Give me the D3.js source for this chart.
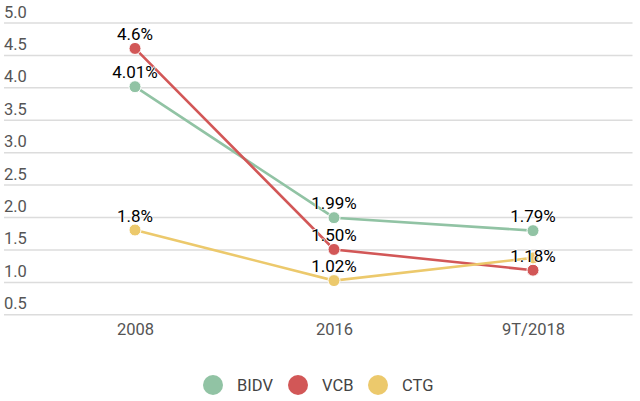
<!DOCTYPE html>
<html><head><meta charset="utf-8">
<script src="https://cdn.jsdelivr.net/npm/d3@7"></script>
<style>body{margin:0;background:#fff}svg{display:block;font-family:Roboto,"Noto Sans",sans-serif}</style>
</head><body><svg id="c" width="640" height="401"></svg>
<script>
const categories = ["2008", "2016", "9T/2018"];
const seriesNames = ["BIDV", "VCB", "CTG"];
const bidv = [4.01, 1.99, 1.79];
const vcb = [4.6, 1.50, 1.18];
const ctg = [1.8, 1.02, 1.37];
const bidvLabels = ["4.01%", "1.99%", "1.79%"];
const vcbLabels = ["4.6%", "1.50%", "1.18%"];
const ctgLabels = ["1.8%", "1.02%", null];
const yTicks = [0.5, 1.0, 1.5, 2.0, 2.5, 3.0, 3.5, 4.0, 4.5, 5.0];
const colors = ["#91c3a4", "#d25757", "#ecc96c"];

const series = [
  {name: seriesNames[0], values: bidv, labels: bidvLabels, color: colors[0]},
  {name: seriesNames[1], values: vcb, labels: vcbLabels, color: colors[1]},
  {name: seriesNames[2], values: ctg, labels: ctgLabels, color: colors[2]}
];

const svg = d3.select("#c");
const x = d3.scalePoint().domain(categories).range([35.5, 632.5]).padding(0.5);
const y = d3.scaleLinear().domain([0.5, 5]).range([314.3, 22.5]);

// grid + y labels
const yAxis = svg.append("g").attr("transform", "translate(4,0)")
  .call(d3.axisRight(y).tickValues(yTicks).tickSize(628.5).tickFormat(d3.format(".1f")));
yAxis.select(".domain").remove();
yAxis.selectAll(".tick line").attr("stroke", "#dcdcdc").attr("stroke-width", 1.5);
yAxis.selectAll(".tick text").attr("x", 0).attr("dy", -5.5).attr("text-anchor", "start")
  .attr("fill", "#555").attr("font-size", 16.5).style("font-family", "Roboto");

// x labels
const xAxis = svg.append("g").attr("transform", "translate(0,314.3)")
  .call(d3.axisBottom(x).tickSize(0).tickPadding(9));
xAxis.select(".domain").remove();
xAxis.selectAll(".tick text").attr("fill", "#555").attr("font-size", 16.5).attr("dy", "0.71em").style("font-family", "Roboto");

const line = d3.line().x((d, i) => x(categories[i])).y(d => y(d));
series.forEach(s => {
  svg.append("path").datum(s.values).attr("d", line)
    .attr("fill", "none").attr("stroke", s.color).attr("stroke-width", 2.6);
});
series.forEach(s => {
  svg.append("g").selectAll("circle").data(s.values).join("circle")
    .attr("cx", (d, i) => x(categories[i])).attr("cy", d => y(d)).attr("r", 6)
    .attr("fill", s.color).attr("stroke", "#fff").attr("stroke-width", 1);
});
series.forEach(s => {
  svg.append("g").selectAll("text").data(s.values.map((v, i) => ({v, i, t: s.labels[i]})).filter(d => d.t))
    .join("text")
    .attr("x", d => x(categories[d.i])).attr("y", d => y(d.v) - 8.5)
    .attr("text-anchor", "middle").attr("font-size", 17).attr("fill", "#000")
    .attr("stroke", "#fff").attr("stroke-width", 1.5).attr("paint-order", "stroke")
    .style("font-family", "Roboto")
    .text(d => d.t);
});

// legend
const lx = [213, 298, 378];
const leg = svg.append("g");
series.forEach((s, i) => {
  leg.append("circle").attr("cx", lx[i]).attr("cy", 385).attr("r", 10).attr("fill", s.color);
  leg.append("text").attr("x", lx[i] + 24).attr("y", 385).attr("dy", "0.36em")
    .attr("font-size", 16.5).attr("fill", "#444").style("font-family", "Roboto").text(s.name);
});
</script></body></html>
